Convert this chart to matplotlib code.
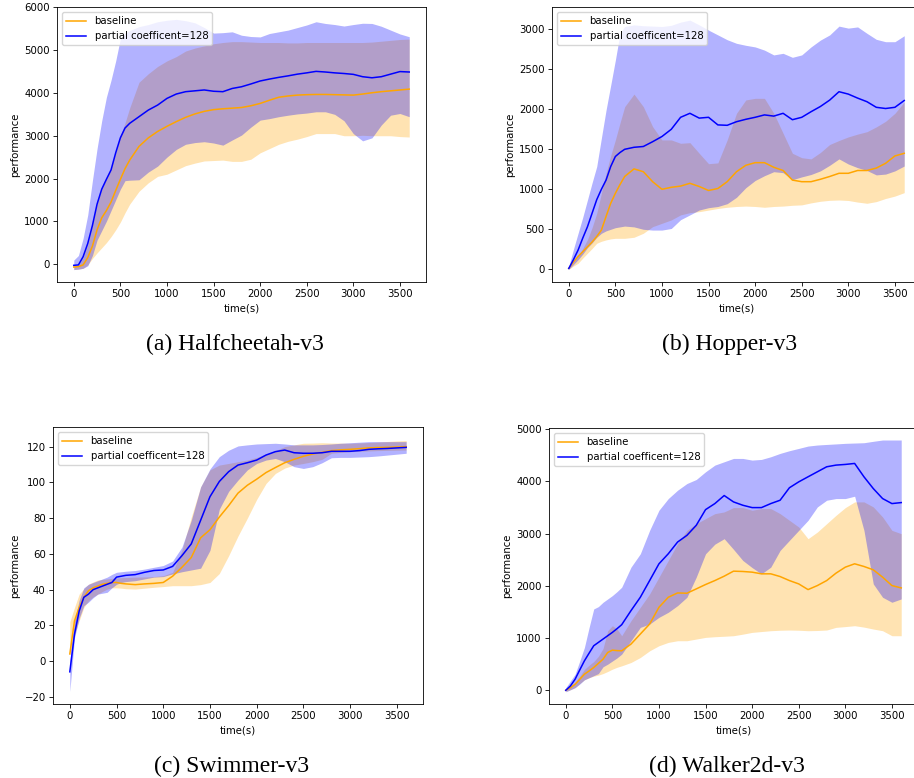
import numpy as np
import matplotlib
matplotlib.use("Agg")
from matplotlib import pyplot as plt

# shared time grid (s)
t = [0, 50, 100, 150, 200, 250, 300, 350, 400, 450, 500, 550, 600,
     700, 800, 900, 1000, 1100, 1200, 1300, 1400, 1500, 1600, 1700, 1800,
     1900, 2000, 2100, 2200, 2300, 2400, 2500, 2600, 2700, 2800, 2900,
     3000, 3100, 3200, 3300, 3400, 3500, 3600]

# (a) Halfcheetah-v3
hc_base = [-70, -60, -20, 150, 420, 800, 1080, 1250, 1450, 1720, 1980, 2230, 2430,
           2750, 2950, 3100, 3220, 3330, 3430, 3510, 3570, 3610, 3630, 3645, 3660,
           3700, 3755, 3830, 3900, 3930, 3950, 3960, 3965, 3965, 3960, 3955,
           3950, 3975, 4005, 4030, 4050, 4070, 4090]
hc_base_lo = [-130, -120, -100, -20, 130, 260, 380, 500, 640, 800, 980, 1200, 1400,
              1700, 1900, 2050, 2100, 2200, 2300, 2360, 2410, 2420, 2430, 2400, 2400,
              2450, 2600, 2700, 2800, 2870, 2920, 2980, 3050, 3050, 3050, 3000,
              3000, 3010, 3000, 3000, 3000, 2980, 2970]
hc_base_hi = [-50, -20, 150, 450, 900, 1400, 1750, 2000, 2250, 2600, 3000, 3300, 3650,
              4250, 4450, 4620, 4750, 4850, 4980, 5050, 5100, 5150, 5180, 5200, 5200,
              5190, 5180, 5180, 5180, 5170, 5170, 5180, 5180, 5180, 5180, 5180,
              5180, 5180, 5190, 5210, 5230, 5250, 5260]
hc_pc = [-30, -20, 170, 480, 900, 1400, 1750, 1980, 2200, 2600, 2950, 3180, 3290,
         3445, 3600, 3717, 3873, 3975, 4030, 4050, 4070, 4040, 4030, 4105, 4145,
         4210, 4280, 4325, 4365, 4400, 4440, 4470, 4505, 4490, 4470, 4455,
         4435, 4380, 4355, 4380, 4440, 4500, 4490]
hc_pc_lo = [-130, -120, -100, -40, 200, 560, 780, 1000, 1250, 1500, 1750, 1950, 1960,
            1970, 2150, 2290, 2500, 2680, 2800, 2840, 2860, 2830, 2780, 2900, 3015,
            3200, 3365, 3400, 3445, 3480, 3510, 3530, 3560, 3560, 3500, 3350,
            3050, 2880, 2950, 3250, 3480, 3520, 3445]
hc_pc_hi = [93, 200, 600, 1150, 1950, 2700, 3350, 3900, 4300, 4750, 5270, 5400, 5460,
            5550, 5600, 5665, 5700, 5720, 5690, 5640, 5530, 5400, 5410, 5430, 5350,
            5320, 5310, 5390, 5430, 5470, 5530, 5590, 5665, 5625, 5600, 5565,
            5600, 5630, 5625, 5560, 5470, 5380, 5315]

# (b) Hopper-v3
hop_base = [12, 90, 160, 220, 280, 340, 410, 490, 660, 825, 950, 1060, 1160,
            1255, 1220, 1095, 1000, 1025, 1040, 1075, 1035, 985, 1010, 1095, 1220,
            1300, 1333, 1333, 1275, 1235, 1115, 1095, 1095, 1125, 1160, 1200,
            1200, 1235, 1235, 1265, 1325, 1417, 1450]
hop_base_lo = [0, 40, 75, 140, 200, 260, 325, 350, 367, 380, 387, 387, 387,
               400, 450, 533, 575, 617, 680, 708, 720, 740, 760, 775, 785,
               790, 785, 775, 785, 790, 800, 805, 830, 850, 862, 866,
               860, 840, 825, 846, 885, 915, 958]
hop_base_hi = [12, 90, 160, 260, 370, 520, 700, 950, 1200, 1420, 1617, 1830, 2033,
               2190, 2033, 1783, 1617, 1617, 1575, 1583, 1450, 1320, 1330, 1617, 1950,
               2117, 2137, 2137, 1950, 1700, 1450, 1395, 1380, 1460, 1560, 1610,
               1655, 1690, 1720, 1780, 1850, 1950, 2090]
hop_pc = [10, 120, 240, 390, 530, 700, 870, 1000, 1115, 1285, 1410, 1460, 1500,
          1525, 1535, 1595, 1660, 1750, 1900, 1950, 1890, 1900, 1805, 1800, 1845,
          1875, 1900, 1930, 1915, 1950, 1870, 1900, 1970, 2035, 2115, 2220,
          2190, 2140, 2095, 2025, 2010, 2025, 2110]
hop_pc_lo = [0, 60, 120, 190, 270, 330, 400, 450, 480, 500, 520, 530, 540,
             530, 500, 490, 490, 510, 620, 680, 741, 770, 785, 820, 900,
             1020, 1110, 1170, 1220, 1208, 1120, 1155, 1185, 1230, 1300, 1380,
             1316, 1270, 1235, 1180, 1190, 1230, 1291]
hop_pc_hi = [35, 250, 450, 650, 865, 1080, 1285, 1640, 1990, 2300, 2615, 2950, 3035,
             3055, 3045, 3040, 3035, 3050, 3090, 3115, 3055, 2990, 2930, 2870, 2825,
             2800, 2780, 2740, 2680, 2700, 2650, 2680, 2780, 2865, 2930, 3040,
             3015, 3030, 2950, 2875, 2845, 2845, 2920]

# (c) Swimmer-v3
sw_base = [4, 22.5, 30, 35.7, 39.4, 41, 42, 43, 43.5, 44, 44, 43.5, 43.2,
           42.8, 43.2, 43.5, 44, 47.5, 52.5, 58, 69, 73.5, 80.6, 87, 94,
           98.4, 101.8, 105.5, 108.3, 111, 112.9, 114.6, 115.9, 116.8, 117.8, 118.2,
           118.5, 118.9, 119.3, 119.5, 119.6, 119.8, 120]
sw_base_lo = [3, 15, 22.5, 30, 33.8, 36, 37.5, 39, 40.3, 41, 41, 40.8, 40.5,
              40.3, 40.8, 41.3, 41.7, 42.2, 42.2, 42.2, 42.8, 44, 49, 59, 70,
              80, 90.5, 99.4, 105, 108, 109.7, 110.6, 111.6, 112.9, 116.3, 116.8,
              117.2, 117.4, 117.6, 117.8, 117.9, 118, 118.1]
sw_base_hi = [22, 30, 37.5, 40.5, 43, 44.3, 45.4, 45.7, 46, 46.3, 46.5, 46.7, 46.8,
              47, 47.1, 47.3, 47.8, 49.7, 62, 80.6, 97.5, 107, 109.7, 110.6, 111.6,
              112.5, 114, 115.9, 117.8, 120, 121, 121.9, 122, 122.2, 122, 122,
              121.9, 122.1, 122.3, 122.6, 122.9, 123.2, 123.4]
sw_pc = [-6, 15, 28, 35.7, 37.5, 40, 41, 42, 43, 44, 47, 47.5, 48,
         48.4, 49.7, 50.7, 51, 53, 59, 65.6, 78.8, 92, 100.5, 106, 109.7,
         111, 112.5, 115.3, 117.2, 118.1, 116.6, 116.3, 116.3, 116.6, 117.4, 117.4,
         117.4, 117.8, 118.5, 118.8, 119, 119.3, 119.6]
sw_pc_lo = [-17, 13, 24, 31, 33, 35.5, 37.5, 38, 38.5, 41, 43, 44, 44.5,
            45, 46, 47, 47.3, 48.8, 50, 51, 52, 62, 85, 95, 101.3,
            107, 110.6, 112.5, 113.4, 111.6, 108.8, 107.8, 108.8, 111, 113.8, 114,
            114, 114.2, 114.4, 114.8, 115.3, 115.8, 116.3]
sw_pc_hi = [0, 22.5, 34, 41, 43, 44, 45, 46, 47, 48.5, 49.7, 50, 50.3,
            50.7, 51.5, 52.5, 53.5, 56, 63.8, 78.8, 97.5, 107.5, 114.4, 118, 120.4,
            121, 121.5, 121.7, 121.9, 121.5, 121, 121, 121, 121.2, 121.5, 121.9,
            122.2, 122.5, 122.8, 122.8, 122.8, 122.8, 122.8]

# (d) Walker2d-v3
wk_base = [0, 50, 115, 210, 308, 370, 436, 515, 596, 724, 769, 760, 756,
           885, 1077, 1269, 1590, 1782, 1865, 1859, 1942, 2026, 2102, 2186, 2282,
           2276, 2263, 2231, 2231, 2179, 2102, 2038, 1929, 2006, 2102, 2244,
           2359, 2423, 2372, 2308, 2167, 2006, 1961]
wk_base_lo = [-20, 10, 50, 130, 200, 240, 270, 290, 320, 360, 404, 440, 468,
              532, 628, 756, 853, 917, 949, 949, 981, 1013, 1026, 1035, 1045,
              1075, 1109, 1125, 1141, 1150, 1154, 1150, 1141, 1145, 1154, 1205,
              1220, 1237, 1210, 1173, 1141, 1045, 1045]
wk_base_hi = [0, 70, 150, 270, 400, 480, 550, 650, 800, 1141, 1237, 1173, 1045,
              1333, 1590, 1846, 2166, 2487, 2808, 3064, 3192, 3288, 3384, 3417, 3500,
              3500, 3449, 3481, 3481, 3384, 3256, 3128, 2904, 3032, 3192, 3352,
              3500, 3609, 3609, 3513, 3320, 3064, 3000]
wk_pc = [0, 83, 212, 390, 564, 710, 853, 917, 981, 1045, 1109, 1180, 1256,
         1526, 1782, 2102, 2423, 2615, 2840, 2968, 3160, 3461, 3577, 3731, 3609,
         3545, 3500, 3500, 3577, 3641, 3880, 3993, 4090, 4186, 4282, 4314,
         4327, 4346, 4090, 3865, 3673, 3577, 3596]
wk_pc_lo = [-30, 10, 50, 120, 200, 240, 280, 320, 450, 500, 560, 620, 692,
            949, 1205, 1269, 1397, 1494, 1622, 1782, 2167, 2615, 2800, 2904, 2700,
            2487, 2350, 2231, 2359, 2679, 2872, 3064, 3256, 3513, 3641, 3673,
            3673, 3718, 3064, 2038, 1782, 1686, 1750]
wk_pc_hi = [50, 180, 308, 560, 820, 1200, 1558, 1603, 1686, 1750, 1814, 1890, 1974,
            2359, 2615, 3064, 3449, 3673, 3833, 3961, 4038, 4186, 4314, 4378, 4442,
            4442, 4410, 4423, 4474, 4538, 4590, 4634, 4679, 4699, 4710, 4720,
            4731, 4737, 4743, 4770, 4795, 4795, 4795]

captions = ["(a) Halfcheetah-v3", "(b) Hopper-v3", "(c) Swimmer-v3", "(d) Walker2d-v3"]

plt.rcParams.update({
    "font.size": 7.3,
    "axes.linewidth": 0.6,
    "xtick.major.size": 2.6, "ytick.major.size": 2.6,
    "xtick.major.width": 0.6, "ytick.major.width": 0.6,
    "xtick.major.pad": 2.6, "ytick.major.pad": 2.6,
    "axes.labelpad": 3,
})

W, H = 914, 778
fig = plt.figure(figsize=(W / 100, H / 100), dpi=100)

# axes boxes in pixels: left, right, top, bottom
boxes = [(57, 426, 7, 282), (552, 921, 7, 282), (53, 423, 427, 704), (549, 918, 428, 704)]
ylims = [(-420, 6010), (-159, 3279), (-24, 131), (-263, 5025)]
yticks = [np.arange(0, 6001, 1000), np.arange(0, 3001, 500),
          np.arange(-20, 121, 20), np.arange(0, 5001, 1000)]
cap_pos = [(235, 344), (730, 344), (232, 766), (727, 766)]

panels = [
    (hc_base, hc_base_lo, hc_base_hi, hc_pc, hc_pc_lo, hc_pc_hi),
    (hop_base, hop_base_lo, hop_base_hi, hop_pc, hop_pc_lo, hop_pc_hi),
    (sw_base, sw_base_lo, sw_base_hi, sw_pc, sw_pc_lo, sw_pc_hi),
    (wk_base, wk_base_lo, wk_base_hi, wk_pc, wk_pc_lo, wk_pc_hi),
]

for i, (bm, blo, bhi, pm, plo, phi) in enumerate(panels):
    l, r, tp, bt = boxes[i]
    ax = fig.add_axes([l / W, 1 - bt / H, (r - l) / W, (bt - tp) / H])
    ax.fill_between(t, blo, bhi, color="orange", alpha=0.3, lw=0)
    ax.fill_between(t, plo, phi, color="blue", alpha=0.3, lw=0)
    ax.plot(t, bm, color="orange", lw=1.1, label="baseline")
    ax.plot(t, pm, color="blue", lw=1.1, label="partial coefficent=128")
    ax.set_xlim(-180, 3780)
    ax.set_ylim(*ylims[i])
    ax.set_xticks(np.arange(0, 3501, 500))
    ax.set_yticks(yticks[i])
    ax.set_xlabel("time(s)")
    ax.set_ylabel("performance")
    ax.legend(loc="upper left")
    cx, cy = cap_pos[i]
    fig.text(cx / W, 1 - cy / H, captions[i], ha="center", va="center",
             family="Liberation Serif", fontsize=17)

fig.savefig("out.png", dpi=100)
